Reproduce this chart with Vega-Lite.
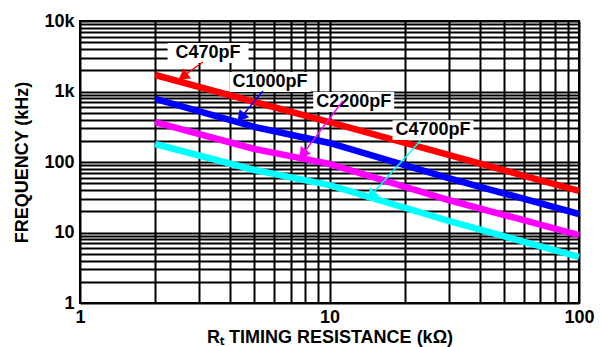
{
  "$schema": "https://vega.github.io/schema/vega-lite/v6.json",
  "width": 499,
  "height": 282,
  "autosize": {"type": "none"},
  "padding": {"left": 80, "top": 21, "right": 25, "bottom": 44},
  "background": "white",
  "config": {
    "view": {"stroke": "black", "strokeWidth": 2},
    "font": "Liberation Sans",
    "axis": {
      "grid": true, "gridColor": "black", "gridWidth": 2, "gridOpacity": 1,
      "ticks": false, "domain": false,
      "labelFont": "Liberation Sans", "labelFontWeight": "bold", "labelFontSize": 18, "labelColor": "black",
      "titleFont": "Liberation Sans", "titleFontWeight": "bold", "titleFontSize": 18, "titleColor": "black",
      "labelOverlap": false, "labelFlush": false
    }
  },
  "datasets": {
    "curves": [
      {"r": 2, "f": 1714, "c": "C470pF"},
      {"r": 5, "f": 710, "c": "C470pF"},
      {"r": 10, "f": 369, "c": "C470pF"},
      {"r": 30, "f": 126, "c": "C470pF"},
      {"r": 100, "f": 38.8, "c": "C470pF"},
      {"r": 2, "f": 783, "c": "C1000pF"},
      {"r": 5, "f": 314, "c": "C1000pF"},
      {"r": 10, "f": 186, "c": "C1000pF"},
      {"r": 30, "f": 59, "c": "C1000pF"},
      {"r": 100, "f": 18.3, "c": "C1000pF"},
      {"r": 2, "f": 369, "c": "C2200pF"},
      {"r": 5, "f": 153, "c": "C2200pF"},
      {"r": 10, "f": 94, "c": "C2200pF"},
      {"r": 30, "f": 28.9, "c": "C2200pF"},
      {"r": 100, "f": 9.2, "c": "C2200pF"},
      {"r": 2, "f": 180, "c": "C4700pF"},
      {"r": 5, "f": 77, "c": "C4700pF"},
      {"r": 10, "f": 47, "c": "C4700pF"},
      {"r": 30, "f": 14.6, "c": "C4700pF"},
      {"r": 100, "f": 4.5, "c": "C4700pF"}
    ],
    "labels": [
      {"c": "C470pF", "lx": 3.26, "ly": 3516, "sx": 3.11, "sy": 2620, "ex": 2.47, "ey": 1456, "ax": 2.585, "ay": 1633, "ang": 234},
      {"c": "C1000pF", "lx": 5.77, "ly": 1364, "sx": 5.41, "sy": 1016, "ex": 4.26, "ey": 369, "ax": 4.415, "ay": 429, "ang": 220},
      {"c": "C2200pF", "lx": 12.5, "ly": 710, "sx": 11.3, "sy": 733, "ex": 7.55, "ey": 110, "ax": 7.8, "ay": 129, "ang": 217},
      {"c": "C4700pF", "lx": 26.0, "ly": 284, "sx": 23.1, "sy": 199, "ex": 14.1, "ey": 28.9, "ax": 14.67, "ay": 33.5, "ang": 222}
    ]
  },
  "layer": [
    {
      "data": {"name": "curves"},
      "mark": {"type": "line", "strokeWidth": 6.5, "strokeCap": "butt"},
      "encoding": {
        "x": {
          "field": "r", "type": "quantitative",
          "scale": {"type": "log", "domain": [1, 100], "nice": false},
          "axis": {
            "values": [1,2,3,4,5,6,7,8,9,10,20,30,40,50,60,70,80,90,100],
            "labelExpr": "datum.value==1?'1':datum.value==10?'10':datum.value==100?'100':''",
            "labelDx": 5, "labelPadding": 5,
            "title": "Rₜ TIMING RESISTANCE (kΩ)", "titlePadding": 2
          }
        },
        "y": {
          "field": "f", "type": "quantitative",
          "scale": {"type": "log", "domain": [1, 10000], "nice": false},
          "axis": {
            "values": [1,2,3,4,5,6,7,8,9,10,20,30,40,50,60,70,80,90,100,200,300,400,500,600,700,800,900,1000,2000,3000,4000,5000,6000,7000,8000,9000,10000],
            "labelExpr": "datum.value==1?'1':datum.value==10?'10':datum.value==100?'100':datum.value==1000?'1k':datum.value==10000?'10k':''",
            "labelPadding": 6,
            "title": "FREQUENCY (kHz)", "titlePadding": 12
          }
        },
        "color": {
          "field": "c", "type": "nominal",
          "scale": {"domain": ["C470pF", "C1000pF", "C2200pF", "C4700pF"], "range": ["#ff0000", "#0000ff", "#ff00ff", "#00ffff"]},
          "legend": null
        },
        "detail": {"field": "c"}
      }
    },
    {
      "data": {"name": "labels"},
      "mark": {"type": "point", "filled": true, "shape": "M-1.35,-0.33H1.35V0.33H-1.35Z", "size": 3600, "fill": "white", "stroke": null, "strokeWidth": 0, "opacity": 1, "fillOpacity": 1},
      "encoding": {
        "x": {"field": "lx", "type": "quantitative"},
        "y": {"field": "ly", "type": "quantitative"}
      }
    },
    {
      "data": {"name": "labels"},
      "mark": {"type": "text", "font": "Liberation Sans", "fontWeight": "bold", "fontSize": 18, "color": "black", "baseline": "middle", "align": "center"},
      "encoding": {
        "x": {"field": "lx", "type": "quantitative"},
        "y": {"field": "ly", "type": "quantitative"},
        "text": {"field": "c"}
      }
    },
    {
      "data": {"name": "labels"},
      "mark": {"type": "rule", "strokeWidth": 1.5},
      "encoding": {
        "x": {"field": "sx", "type": "quantitative"},
        "y": {"field": "sy", "type": "quantitative"},
        "x2": {"field": "ex"},
        "y2": {"field": "ey"},
        "color": {"field": "c", "type": "nominal", "legend": null}
      }
    },
    {
      "data": {"name": "labels"},
      "mark": {"type": "point", "shape": "triangle-up", "filled": true, "size": 160, "opacity": 1},
      "encoding": {
        "x": {"field": "ax", "type": "quantitative"},
        "y": {"field": "ay", "type": "quantitative"},
        "angle": {"field": "ang", "type": "quantitative", "scale": null},
        "color": {"field": "c", "type": "nominal", "legend": null}
      }
    }
  ]
}
